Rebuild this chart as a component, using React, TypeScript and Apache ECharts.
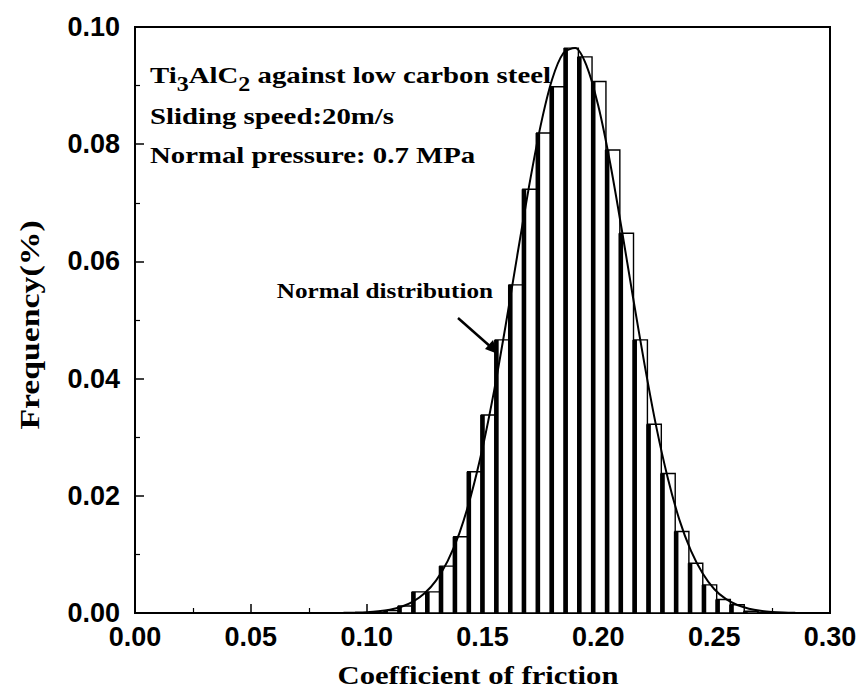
import React, { useEffect, useRef } from "react";
import * as echarts from "echarts";

// Histogram bins (centres, coefficient of friction) and frequencies
const binCenters = [0.1048, 0.1107, 0.1167, 0.1227, 0.1287, 0.1346, 0.1406, 0.1466, 0.1525, 0.1585, 0.1645, 0.1704, 0.1764, 0.1824, 0.1884, 0.1943, 0.2003, 0.2063, 0.2122, 0.2182, 0.2242, 0.2302, 0.2361, 0.2421, 0.2481, 0.2540, 0.2600, 0.2660, 0.2719];
const binFreq = [0.0001, 0.0004, 0.0012, 0.0036, 0.0036, 0.0080, 0.0130, 0.0241, 0.0338, 0.0466, 0.0560, 0.0723, 0.0819, 0.0898, 0.0964, 0.0949, 0.0907, 0.0790, 0.0648, 0.0466, 0.0322, 0.0238, 0.0139, 0.0085, 0.0048, 0.0023, 0.0014, 0.0003, 0.0001];
const binWidth = 0.00597;

// Normal distribution curve points
const curveX = [0.090, 0.095, 0.100, 0.105, 0.110, 0.115, 0.120, 0.125, 0.130, 0.135, 0.140, 0.145, 0.150, 0.155, 0.160, 0.165, 0.170, 0.175, 0.180, 0.185, 0.190, 0.195, 0.200, 0.205, 0.210, 0.215, 0.220, 0.225, 0.230, 0.235, 0.240, 0.245, 0.250, 0.255, 0.260, 0.265, 0.270, 0.275, 0.280, 0.285];
const curveY = [0.00003, 0.00007, 0.00014, 0.00029, 0.00057, 0.00107, 0.00194, 0.00336, 0.00558, 0.0089, 0.0136, 0.0200, 0.0281, 0.0379, 0.0491, 0.0610, 0.0726, 0.0830, 0.0910, 0.0956, 0.0964, 0.0933, 0.0865, 0.0770, 0.0657, 0.0538, 0.0423, 0.0318, 0.0230, 0.0159, 0.0106, 0.0068, 0.0041, 0.0024, 0.00136, 0.00074, 0.00038, 0.00019, 0.00009, 0.00004];

const xTickValues = [0, 0.05, 0.1, 0.15, 0.2, 0.25, 0.3];
const yTickValues = [0, 0.02, 0.04, 0.06, 0.08, 0.1];

const SERIF = '"Liberation Serif", "Times New Roman", serif';
const SANS = '"Liberation Sans", Arial, sans-serif';

function measure(text: string, size: number): number {
  const c = document.createElement("canvas").getContext("2d") as CanvasRenderingContext2D;
  c.font = `bold ${size}px ${SERIF}`;
  return c.measureText(text).width;
}

type Seg = { t: string; size: number; dy: number };

function segGroup(x: number, y: number, segs: Seg[], scaleX: number) {
  let cx = 0;
  const children: any[] = [];
  segs.forEach((s) => {
    children.push({
      type: "text",
      x: cx,
      y: s.dy,
      style: {
        text: s.t,
        font: `bold ${s.size}px ${SERIF}`,
        fill: "#000",
        verticalAlign: "middle",
        align: "left",
      },
    });
    cx += measure(s.t, s.size);
  });
  return { type: "group", x, y, scaleX, children };
}

export default function App() {
  const ref = useRef<HTMLDivElement>(null);
  useEffect(() => {
    if (!ref.current) return;
    const chart = echarts.init(ref.current, null, { renderer: "svg" });
    const SX = 1.2;
    const option: any = {
      animation: false,
      backgroundColor: "#fff",
      grid: { left: 135, right: 31, top: 27, bottom: 78, show: true, borderColor: "#000", borderWidth: 2 },
      xAxis: {
        type: "value",
        min: 0,
        max: 0.3,
        interval: 0.05,
        axisLine: { lineStyle: { color: "#000", width: 2 } },
        axisTick: { inside: true, length: 9, lineStyle: { color: "#000", width: 1.5 } },
        minorTick: { show: true, splitNumber: 2, length: 5, lineStyle: { color: "#000", width: 1.2 } },
        splitLine: { show: false },
        axisLabel: {
          formatter: (v: number) => v.toFixed(2),
          fontSize: 27,
          fontWeight: "bold",
          fontFamily: SANS,
          color: "#000",
          margin: 10,
          customValues: xTickValues,
        },
      },
      yAxis: {
        type: "value",
        min: 0,
        max: 0.1,
        interval: 0.02,
        axisLine: { lineStyle: { color: "#000", width: 2 } },
        axisTick: { inside: true, length: 9, lineStyle: { color: "#000", width: 1.5 } },
        minorTick: { show: true, splitNumber: 2, length: 5, lineStyle: { color: "#000", width: 1.2 } },
        splitLine: { show: false },
        axisLabel: {
          formatter: (v: number) => v.toFixed(2),
          fontSize: 27,
          fontWeight: "bold",
          fontFamily: SANS,
          color: "#000",
          margin: 15,
          customValues: yTickValues,
        },
      },
      series: [
        {
          type: "custom",
          data: binCenters.map((c, i) => [c, binFreq[i]]),
          encode: { x: 0, y: 1 },
          renderItem: (params: any, api: any) => {
            const xc = api.value(0);
            const h = api.value(1);
            const p0 = api.coord([xc - binWidth / 2, 0]);
            const p1 = api.coord([xc + binWidth / 2, h]);
            const w = p1[0] - p0[0];
            const hh = p0[1] - p1[1];
            return {
              type: "group",
              children: [
                {
                  type: "rect",
                  shape: { x: p0[0], y: p1[1], width: w, height: hh },
                  style: { fill: "#fff", stroke: "#000", lineWidth: 1.4 },
                },
                {
                  type: "rect",
                  shape: { x: p0[0] - 1.2, y: p1[1], width: 4.6, height: hh },
                  style: { fill: "#000" },
                },
              ],
            };
          },
          z: 2,
        },
        {
          type: "line",
          data: curveX.map((x, i) => [x, curveY[i]]),
          showSymbol: false,
          smooth: 0.3,
          lineStyle: { color: "#000", width: 2 },
          z: 5,
        },
      ],
      graphic: [
        segGroup(150, 75, [
          { t: "Ti", size: 24, dy: 0 },
          { t: "3", size: 20, dy: 9 },
          { t: "AlC", size: 24, dy: 0 },
          { t: "2", size: 20, dy: 9 },
          { t: " against low carbon steel", size: 24, dy: 0 },
        ], SX),
        segGroup(150, 116, [{ t: "Sliding speed:20m/s", size: 24, dy: 0 }], SX),
        segGroup(150, 155, [{ t: "Normal pressure: 0.7 MPa", size: 24, dy: 0 }], SX),
        {
          type: "text",
          x: 493,
          y: 291,
          scaleX: SX,
          style: { text: "Normal distribution", font: `bold 21px ${SERIF}`, fill: "#000", align: "right", verticalAlign: "middle" },
        },
        {
          type: "line",
          shape: { x1: 458, y1: 318, x2: 492, y2: 348 },
          style: { stroke: "#000", lineWidth: 2.5 },
        },
        {
          type: "polygon",
          shape: { points: [[498, 354], [485, 349], [493, 340]] },
          style: { fill: "#000" },
        },
        {
          type: "text",
          x: 478,
          y: 675,
          scaleX: 1.18,
          style: { text: "Coefficient of friction", font: `bold 26px ${SERIF}`, fill: "#000", align: "center", verticalAlign: "middle" },
        },
        {
          type: "text",
          x: 30,
          y: 325,
          rotation: Math.PI / 2,
          scaleX: 1.25,
          style: { text: "Frequency(%)", font: `bold 27px ${SERIF}`, fill: "#000", align: "center", verticalAlign: "middle" },
        },
      ],
    };
    chart.setOption(option);
    return () => chart.dispose();
  }, []);
  return (
    <div style={{ position: "fixed", left: 0, top: 0, width: 861, height: 691, background: "#fff" }}>
      <div ref={ref} style={{ width: 861, height: 691 }} />
    </div>
  );
}
